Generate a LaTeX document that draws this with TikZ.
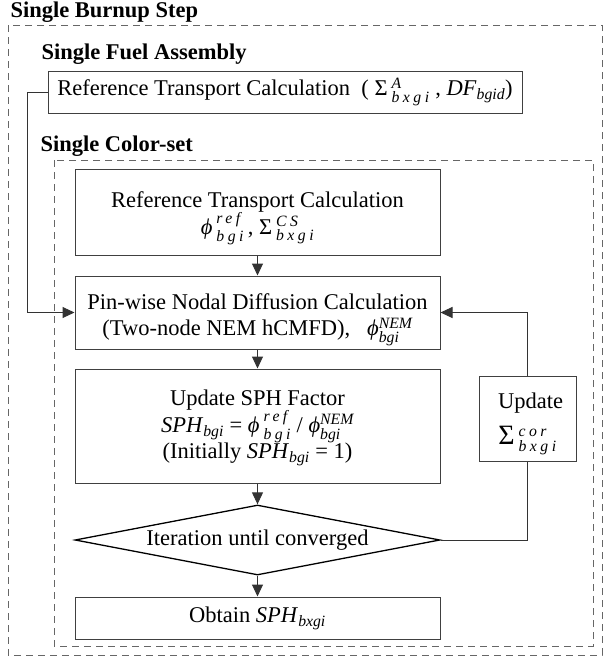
\documentclass[tikz,border=0pt]{standalone}
\usepackage{amsmath}
\usepackage{fontspec}
\setmainfont{Liberation Serif}
\newfontfamily\wideit[LetterSpace=22]{Liberation Serif}
\usetikzlibrary{shapes.geometric,arrows.meta}

\newcommand{\bodyfont}{\fontsize{22.5}{26.5}\selectfont}
\newcommand{\supsub}[2]{\hspace{4pt}\ensuremath{^{\text{\wideit\itshape #1}}_{\text{\wideit\itshape #2}}}}
\newcommand{\supsubn}[2]{\ensuremath{^{\text{\itshape #1}}_{\text{\itshape #2}}}}
\newcommand{\subit}[1]{\ensuremath{_{\text{\itshape #1}}}}
\newcommand{\sph}{\textit{SPH}}
\newcommand{\bigsigma}{{\fontsize{28}{28}\selectfont Σ}}
\newcommand{\topgap}[1]{\rule{0pt}{#1}}

\tikzset{
  box/.style={draw=black!75, line width=1pt, minimum width=365pt, inner sep=2pt, align=center},
  frame/.style={draw=black!60, line width=1pt, dash pattern=on 7pt off 5pt},
  title/.style={anchor=base west, font=\bodyfont\bfseries},
  arrow/.style={draw=black!80, line width=1pt, -{Triangle[length=12pt,width=11pt]}},
  line/.style={draw=black!80, line width=1pt}
}

\begin{document}
\begin{tikzpicture}[x=1pt, y=-1pt, font=\bodyfont]
  \useasboundingbox (0,0) rectangle (604,657);

  % groups
  \draw[frame] (8,25) rectangle (602,655);
  \draw[frame] (54,160) rectangle (593,646);
  \draw (7,17) node[title] (step) {Single Burnup Step};
  \draw (38,59) node[title] (asm) {Single Fuel Assembly};
  \draw (37,151) node[title] (cset) {Single Color-set};

  \draw (285,92) node[box, minimum width=474pt, minimum height=42pt] (fa)
    {Reference Transport Calculation~ ( Σ\supsub{A}{bxgi} , \textit{DF}\subit{bgid})};
  \draw (257.5,212) node[box, minimum height=86pt] (ref)
    {\topgap{28pt}Reference Transport Calculation\\ \textit{ϕ}\supsub{ref}{bgi}\,, Σ\supsub{CS}{bxgi}};
  \draw (257.5,312.5) node[box, minimum height=73pt] (pin)
    {\topgap{30pt}Pin-wise Nodal Diffusion Calculation\\ (Two-node NEM hCMFD),~~ \textit{ϕ}\supsubn{NEM}{bgi}};
  \draw (257.5,426) node[box, minimum height=114pt] (sph)
    {\topgap{20pt}Update SPH Factor\\ \sph\subit{bgi} = \textit{ϕ}\supsub{ref}{bgi} / \textit{ϕ}\supsubn{NEM}{bgi}\\ (Initially \sph\subit{bgi} = 1)};
  \draw (257.5,540) node[diamond, draw=black, line width=1.3pt, minimum width=365pt,
    minimum height=70pt, aspect=5.2, inner sep=0pt] (iter) {Iteration until converged};
  \draw (257.5,618) node[box, minimum height=42pt] (obt) {Obtain \sph\subit{bxgi}};
  \draw (527.5,418.5) node[box, minimum width=97pt, minimum height=85pt] (upd)
    {\topgap{26pt}\hspace{6pt}Update\\[9pt] \bigsigma\supsub{cor}{bxgi}};
  \coordinate (bend) at (27,92);

  \draw[arrow] (ref) -- (pin);
  \draw[arrow] (pin) -- (sph);
  \draw[arrow] (sph) -- (iter);
  \draw[arrow] (iter) -- (obt);
  \draw[arrow] (fa.west) -- (bend) |- (pin.west);
  \draw[line] (iter.east) -| (upd.south);
  \draw[arrow] (upd.north) |- (pin.east);
\end{tikzpicture}
\end{document}
